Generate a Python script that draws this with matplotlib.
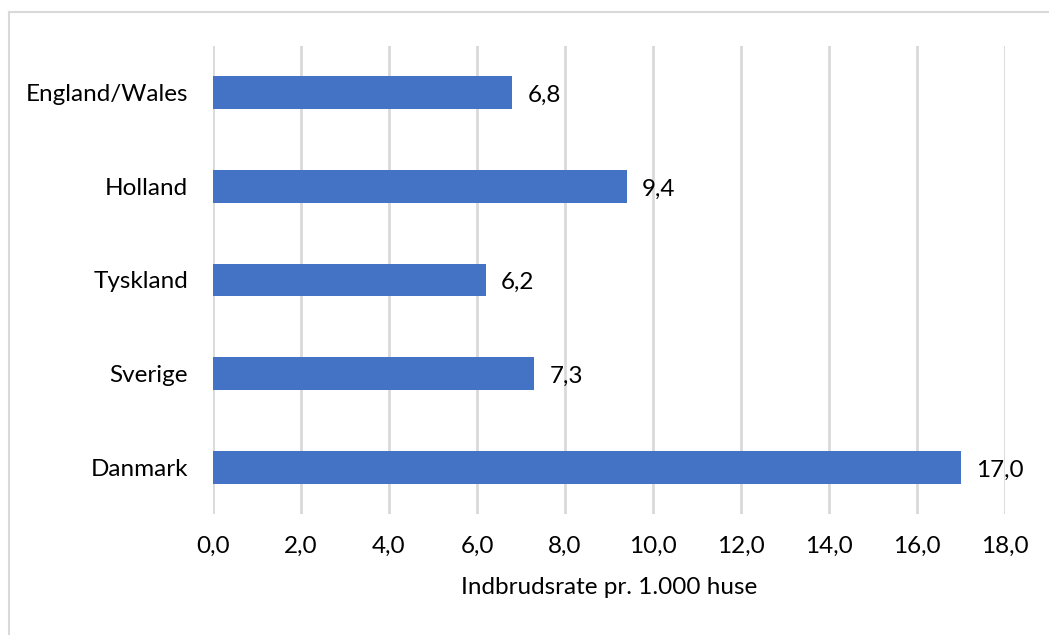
import matplotlib
matplotlib.use('Agg')
import matplotlib.pyplot as plt
from matplotlib.lines import Line2D

COUNTRIES = ['Danmark', 'Sverige', 'Tyskland', 'Holland', 'England/Wales']
RATES = [17.0, 7.3, 6.2, 9.4, 6.8]
XTICKS = [0, 2, 4, 6, 8, 10, 12, 14, 16, 18]
XLABEL = 'Indbrudsrate pr. 1.000 huse'

BAR_COLOR = '#4472C4'
GRID_COLOR = '#D9D9D9'
TEXT_COLOR = '#000000'

plt.rcParams['font.family'] = ['Lato', 'DejaVu Sans']
FS = 17.5

fig = plt.figure(figsize=(10.49, 6.35), dpi=100)
ax = fig.add_axes([213 / 1049, 121 / 635, 792 / 1049, 468 / 635])

ypos = list(range(len(COUNTRIES)))
ax.barh(ypos, RATES, height=0.35, color=BAR_COLOR, zorder=3)

for y, v in zip(ypos, RATES):
    ax.annotate(f'{v:.1f}'.replace('.', ','), xy=(v, y), xytext=(11, -2),
                textcoords='offset points', ha='left', va='center',
                fontsize=FS, color=TEXT_COLOR)

ax.set_xlim(0, 18)
ax.set_ylim(-0.5, len(COUNTRIES) - 0.5)
ax.set_xticks(XTICKS)
ax.set_xticklabels([f'{t:.1f}'.replace('.', ',') for t in XTICKS], fontsize=FS, color=TEXT_COLOR)
ax.set_yticks(ypos)
ax.set_yticklabels(COUNTRIES, fontsize=FS, color=TEXT_COLOR)
ax.tick_params(axis='both', length=0)
ax.tick_params(axis='x', pad=16)
ax.tick_params(axis='y', pad=18)
ax.grid(axis='x', color=GRID_COLOR, linewidth=2, zorder=0)
for s in ax.spines.values():
    s.set_visible(False)
ax.set_xlabel(XLABEL, fontsize=FS, color=TEXT_COLOR, labelpad=14)

# chart border (only top and left visible in the crop)
fig.add_artist(Line2D([9 / 1049, 9 / 1049], [0, 1 - 12 / 635], color=GRID_COLOR, linewidth=1.5,
                      transform=fig.transFigure))
fig.add_artist(Line2D([9 / 1049, 1], [1 - 12 / 635, 1 - 12 / 635], color=GRID_COLOR, linewidth=1.5,
                      transform=fig.transFigure))

fig.savefig('out.png', dpi=100)
